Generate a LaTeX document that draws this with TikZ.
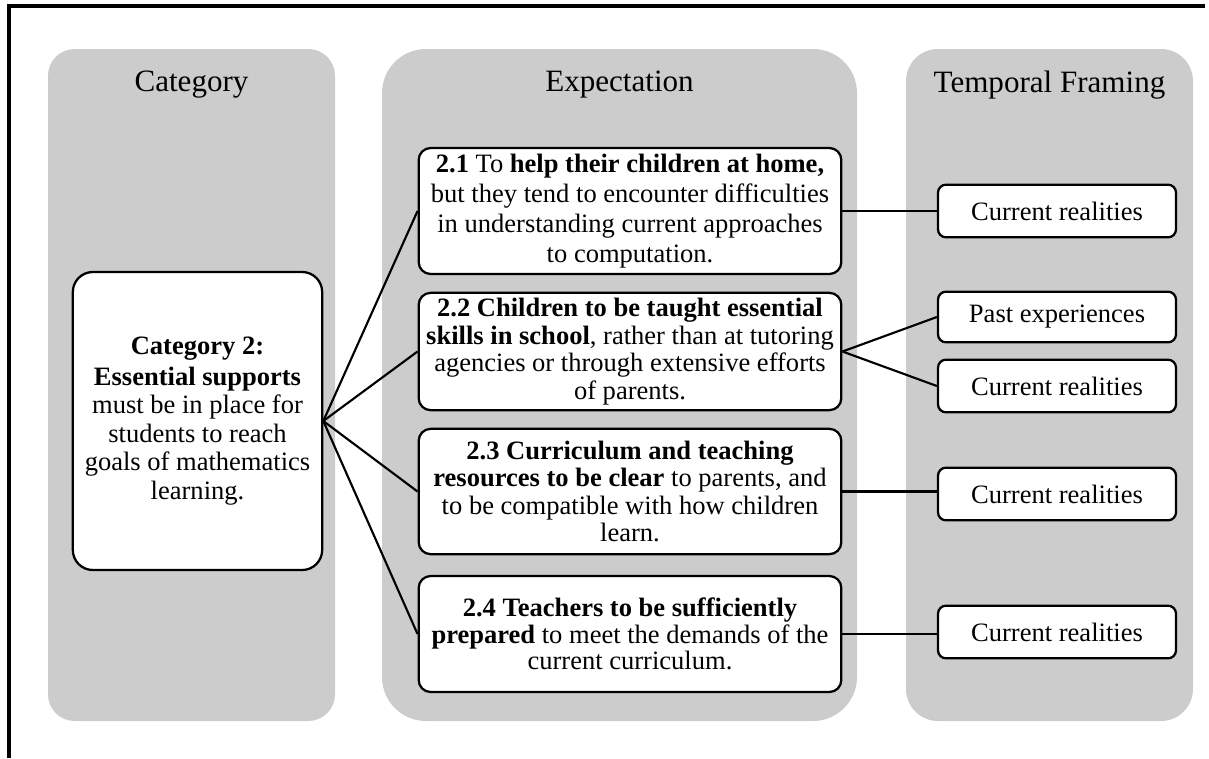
\documentclass[tikz,border=0pt]{standalone}
\usepackage{fontspec}
\setmainfont{Liberation Serif}
\definecolor{panelgray}{RGB}{204,204,204}
\tikzset{
  panel/.style={fill=panelgray, draw=none},
  title/.style={font=\fontsize{23.3pt}{26pt}\selectfont, anchor=center},
  box/.style={draw=black, fill=white, line width=1.7pt, align=center, inner sep=0pt,
    font=\fontsize{19.9pt}{22.5pt}\selectfont},
  ebox/.style={box, rounded corners=9pt, minimum width=317pt},
  tbox/.style={box, rounded corners=6pt, minimum width=178.5pt, minimum height=39.5pt},
  link/.style={draw=black, line width=1.6pt}
}
\begin{document}
\begin{tikzpicture}[x=0.75pt,y=-0.75pt]
\useasboundingbox (0,0) rectangle (1209,758);
% border
\draw[line width=2.8pt] (9,758) -- (9,6) -- (1205,6);
% panels
\fill[panel, rounded corners=20pt] (48,49) rectangle (335,721);
\fill[panel, rounded corners=33pt] (382,49) rectangle (857,721);
\fill[panel, rounded corners=24pt] (906,49) rectangle (1193,721);
% titles
\node[title] (t1) at (191.5,85) {Category};
\node[title] (t2) at (619.5,85) {Expectation};
\node[title] (t3) at (1049.5,85) {Temporal Framing};
% category box
\node[box, rounded corners=15pt, minimum width=187pt, minimum height=223.5pt,
  font=\fontsize{19.9pt}{21.4pt}\selectfont] (cat) at (197.5,421)
  {\textbf{Category 2:}\\[1.5pt] \textbf{Essential supports}\\ must be in place for\\ students to reach\\ goals of mathematics\\ learning.};
% expectation boxes
\node[ebox, minimum height=94.5pt, font=\fontsize{19.9pt}{22.5pt}\selectfont] (e1) at (630,211)
  {\textbf{2.1} To \textbf{help their children at home,}\\ but they tend to encounter difficulties\\ in understanding current approaches\\ to computation.};
\node[ebox, minimum height=88pt, font=\fontsize{19.9pt}{20.8pt}\selectfont] (e2) at (630,351.5)
  {\textbf{2.2 Children to be taught essential}\\ \textbf{skills in school}, rather than at tutoring\\ agencies or through extensive efforts\\ of parents.};
\node[ebox, minimum height=94pt, font=\fontsize{19.9pt}{20.4pt}\selectfont] (e3) at (630,491.5)
  {\textbf{2.3 Curriculum and teaching}\\ \textbf{resources to be clear} to parents, and\\ to be compatible with how children\\ learn.};
\node[ebox, minimum height=87pt, font=\fontsize{19.9pt}{19.8pt}\selectfont] (e4) at (630,634)
  {\textbf{2.4 Teachers to be sufficiently}\\ \textbf{prepared} to meet the demands of the\\ current curriculum.};
% temporal boxes
\node[tbox] (f1) at (1057,211) {Current realities};
\node[tbox, minimum height=38pt] (f2) at (1057,317) {Past experiences};
\node[tbox] (f3) at (1057,386) {Current realities};
\node[tbox] (f4) at (1057,494) {Current realities};
\node[tbox] (f5) at (1057,632) {Current realities};
% connectors
\draw[link] (cat.east) -- (e1.west);
\draw[link] (cat.east) -- (e2.west);
\draw[link] (cat.east) -- (e3.west);
\draw[link] (cat.east) -- (e4.west);
\draw[link] (e1.east) -- (e1.east -| f1.west);
\draw[link] (e2.east) -- (f2.west);
\draw[link] (e2.east) -- (f3.west);
\draw[link] (e3.east) -- (e3.east -| f4.west);
\draw[link] (e4.east) -- (e4.east -| f5.west);
\end{tikzpicture}
\end{document}
